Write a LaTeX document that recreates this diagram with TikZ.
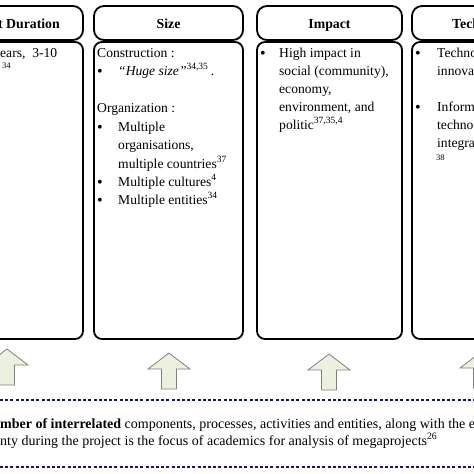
\documentclass[tikz,border=0pt]{standalone}
\usepackage{fontspec}
\setmainfont{Liberation Serif}
\definecolor{arrowfill}{HTML}{EBF1DE}
\definecolor{arrowline}{HTML}{808080}
\definecolor{dashblue}{HTML}{14147F}
\tikzset{
  hdrbox/.style={draw, line width=1.8pt, rounded corners=10pt, minimum height=34pt, inner sep=0pt},
  bodybox/.style={draw, line width=1.8pt, rounded corners=8pt, minimum height=297pt, inner sep=0pt},
  txt/.style={anchor=base west, inner sep=0pt, font=\fontsize{13.6}{18}\selectfont},
  hdrtxt/.style={anchor=base, inner sep=0pt, font=\fontsize{13.8}{18}\selectfont\bfseries},
  bul/.style={anchor=base, inner sep=0pt, font=\fontsize{16}{18}\selectfont},
  foot/.style={anchor=base west, inner sep=0pt, font=\fontsize{14}{17}\selectfont},
  sepline/.style={draw=dashblue, line width=1.6pt, dash pattern=on 3pt off 2.2pt},
  arrowshape/.style={draw=arrowline, fill=arrowfill, line width=0.8pt, line join=miter},
  uparrow/.pic={\path[arrowshape] (0,0) -- (21,16) -- (7.5,16) -- (7.5,36) -- (-7.5,36) -- (-7.5,16) -- (-21,16) -- cycle;}
}
\begin{document}
\begin{tikzpicture}[x=1pt,y=-1pt]
\useasboundingbox (0,0) rectangle (474,474);
\clip (0,0) rectangle (474,474);
\fill[white] (0,0) rectangle (474,474);

% column boxes
\node[hdrbox, minimum width=163pt] (h1) at (1.5,23) {};
\node[bodybox, minimum width=163pt] (b1) at (1.5,190.5) {};
\node[hdrbox, minimum width=149pt] (h2) at (168.5,23) {};
\node[bodybox, minimum width=149pt] (b2) at (168.5,190.5) {};
\node[hdrbox, minimum width=145pt] (h3) at (329.5,23) {};
\node[bodybox, minimum width=145pt] (b3) at (329.5,190.5) {};
\node[hdrbox, minimum width=148pt] (h4) at (486,23) {};
\node[bodybox, minimum width=148pt] (b4) at (486,190.5) {};

% headers
\node[hdrtxt, anchor=base east] (t1) at (60,28) {t Duration};
\node[hdrtxt] (t2) at (168.5,28) {Size};
\node[hdrtxt] (t3) at (329.5,28) {Impact};
\node[hdrtxt, anchor=base west] (t4) at (452,28) {Tech};

% column 1 body
\node[txt] (c1a) at (0,57) {ears,\ \ 3-10};
\node[txt, font=\fontsize{8.5}{10}\selectfont] (c1b) at (2,68) {34};

% column 2 body
\node[txt] (c2a) at (97,57) {Construction :};
\node[bul] (c2b0) at (100,76) {•};
\node[txt] (c2b) at (118,75) {\textit{“Huge size”}\textsuperscript{34,35}\,.};
\node[txt] (c2c) at (97,112) {Organization :};
\node[bul] (c2d0) at (100,132) {•};
\node[txt] (c2d) at (118,131) {Multiple};
\node[txt] (c2e) at (118,149) {organisations,};
\node[txt] (c2f) at (118,168) {multiple countries\textsuperscript{37}};
\node[bul] (c2g0) at (100,187) {•};
\node[txt] (c2g) at (118,186) {Multiple cultures\textsuperscript{4}};
\node[bul] (c2h0) at (100,205) {•};
\node[txt] (c2h) at (118,204) {Multiple entities\textsuperscript{34}};

% column 3 body
\node[bul] (c3a0) at (263,58) {•};
\node[txt] (c3a) at (279,57) {High impact in};
\node[txt] (c3b) at (279,75) {social (community),};
\node[txt] (c3c) at (279,93) {economy,};
\node[txt] (c3d) at (279,111) {environment, and};
\node[txt] (c3e) at (279,129) {politic\textsuperscript{37,35,4}};

% column 4 body
\node[bul] (c4a0) at (418,58) {•};
\node[txt] (c4a) at (437,57) {Techno};
\node[txt] (c4b) at (437,75) {innova};
\node[bul] (c4c0) at (418,112) {•};
\node[txt] (c4c) at (437,111) {Inform};
\node[txt] (c4d) at (437,129) {techno};
\node[txt] (c4e) at (437,147) {integra};
\node[txt, font=\fontsize{8.5}{10}\selectfont] (c4f) at (436,160) {38};

% arrows
\pic at (7,349) {uparrow};
\pic at (169,353) {uparrow};
\pic at (329,354) {uparrow};
\pic at (481,352) {uparrow};

% separators
\coordinate (s1a) at (0,400);
\coordinate (s1b) at (474,400);
\coordinate (s2a) at (0,467);
\coordinate (s2b) at (474,467);
\draw[sepline] (s1a) -- (s1b);
\draw[sepline] (s2a) -- (s2b);

% bottom text
\node[foot] (f1) at (0,428) {\textbf{mber of interrelated} components, processes, activities and entities, along with the e};
\node[foot] (f2) at (0,445) {nty during the project is the focus of academics for analysis of megaprojects\textsuperscript{26}};
\end{tikzpicture}
\end{document}
